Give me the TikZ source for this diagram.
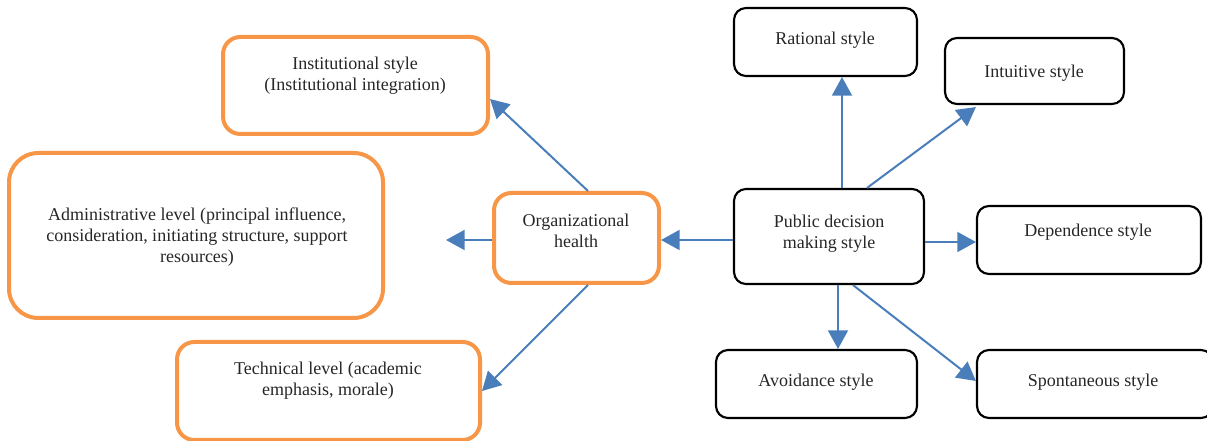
\documentclass[tikz,border=0pt]{standalone}
\usepackage{fontspec}
\setmainfont{Liberation Serif}
\usetikzlibrary{arrows.meta,calc}
\definecolor{flowblue}{RGB}{74,126,187}
\definecolor{healthorange}{RGB}{247,150,70}
\begin{document}
\begin{tikzpicture}[x=0.75pt,y=0.75pt,yscale=-1,
  stylebox/.style={draw=black,line width=1.6pt,rounded corners=9pt,inner sep=0pt},
  healthbox/.style={draw=healthorange,line width=3pt,rounded corners=13pt,inner sep=0pt},
  boxtext/.style={align=center,font=\fontsize{13.5}{16}\selectfont,text=black!85,inner sep=0pt},
  flow/.style={draw=flowblue,line width=1.5pt,-{Triangle[length=14pt,width=15pt]}}]
%set diagram left start at 0, and has height of 441
\useasboundingbox (0,0) rectangle (1207,441);

%Shape: Rounded Rect [id:rational]
\node[stylebox,minimum width=183*0.75pt,minimum height=68*0.75pt] (rational) at (825.5,42) {};
%Shape: Rounded Rect [id:intuitive]
\node[stylebox,minimum width=179*0.75pt,minimum height=66*0.75pt] (intuitive) at (1034.5,71) {};
%Shape: Rounded Rect [id:public]
\node[stylebox,minimum width=190*0.75pt,minimum height=95*0.75pt] (public) at (829,236.5) {};
%Shape: Rounded Rect [id:dependence]
\node[stylebox,minimum width=224*0.75pt,minimum height=68*0.75pt] (dependence) at (1089,240) {};
%Shape: Rounded Rect [id:avoidance]
\node[stylebox,minimum width=201*0.75pt,minimum height=68*0.75pt] (avoidance) at (816.5,384) {};
%Shape: Rounded Rect [id:spontaneous]
\node[stylebox,minimum width=236*0.75pt,minimum height=68*0.75pt] (spontaneous) at (1095,384) {};

%Shape: Rounded Rect [id:institutional]
\node[healthbox,minimum width=265*0.75pt,minimum height=97*0.75pt] (institutional) at (355.5,85.5) {};
%Shape: Rounded Rect [id:administrative]
\node[healthbox,rounded corners=22pt,minimum width=374*0.75pt,minimum height=165*0.75pt] (administrative) at (196,235.5) {};
%Shape: Rounded Rect [id:organizational]
\node[healthbox,minimum width=165*0.75pt,minimum height=90*0.75pt] (organizational) at (576.5,238) {};
%Shape: Rounded Rect [id:technical]
\node[healthbox,minimum width=303*0.75pt,minimum height=98*0.75pt] (technical) at (328.5,391) {};

\coordinate (admintip) at ($(administrative.east)+(61,4.5)$);

%Straight Lines with arrows
\draw[flow] ($(public.north)+(13,0)$) -- ($(rational.south)+(16.5,0)$);
\draw[flow] ($(public.north)+(38,0)$) -- ($(intuitive.south west)+(32,2)$);
\draw[flow] ($(public.east)+(0,5.5)$) -- ($(dependence.west)+(0,2)$);
\draw[flow] ($(public.south)+(9,0)$) -- ($(avoidance.north)+(21.5,0)$);
\draw[flow] ($(public.south)+(24,0)$) -- ($(spontaneous.west)+(0,-3)$);
\draw[flow] ($(public.west)+(0,3.5)$) -- ($(organizational.east)+(0,2)$);
\draw[flow] ($(organizational.west)+(0,2)$) -- (admintip);
\draw[flow] ($(organizational.north)+(11.5,0)$) -- ($(institutional.east)+(0,13.5)$);
\draw[flow] ($(organizational.south)+(11.5,0)$) -- ($(technical.east)+(0,0)$);

% Text Node
\node[boxtext] (rationaltext) at (825,40) {Rational style};
% Text Node
\node[boxtext] (intuitivetext) at (1034,73) {Intuitive style};
% Text Node
\node[boxtext] (publictext) at (829,234) {Public decision\\making style};
% Text Node
\node[boxtext] (dependencetext) at (1088,232) {Dependence style};
% Text Node
\node[boxtext] (avoidancetext) at (816,382) {Avoidance style};
% Text Node
\node[boxtext] (spontaneoustext) at (1093,382) {Spontaneous style};
% Text Node
\node[boxtext] (institutionaltext) at (355,76) {Institutional style\\(Institutional integration)};
% Text Node
\node[boxtext] (administrativetext) at (197,237) {Administrative level (principal influence,\\consideration, initiating structure, support\\resources)};
% Text Node
\node[boxtext] (organizationaltext) at (576,231) {Organizational\\health};
% Text Node
\node[boxtext] (technicaltext) at (328,381) {Technical level (academic\\emphasis, morale)};

\end{tikzpicture}
\end{document}
